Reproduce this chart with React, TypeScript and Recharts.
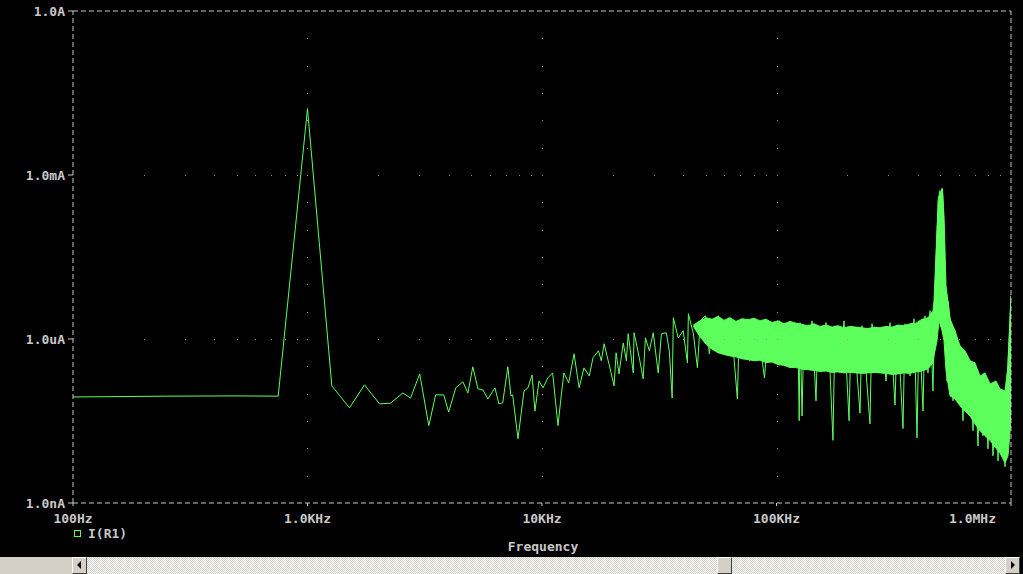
import React from "react";
import {
  ComposedChart,
  Line,
  Area,
  Scatter,
  XAxis,
  YAxis,
  ReferenceLine,
} from "recharts";

// I(R1) spectrum, [frequency Hz, current nA]
const lowTrace: [number, number][] = [
  [100, 87], [250, 90], [500, 91], [750, 90], [1000, 1.64e7],
  [1270, 139], [1510, 55], [1750, 145], [2030, 65], [2260, 67],
  [2550, 103], [2750, 83], [3010, 230], [3290, 26], [3520, 95],
  [3810, 95], [4000, 46], [4290, 128], [4600, 165], [4830, 103],
  [5070, 310], [5330, 123], [5600, 117], [5880, 80], [6300, 128],
  [6550, 65], [6800, 68], [7150, 310], [7370, 91], [7500, 95],
  [7900, 15], [8380, 112], [8710, 128], [9070, 220], [9330, 48],
  [9710, 170], [10100, 128], [10600, 195], [11100, 240], [11700, 26],
];

const midTrace: [number, number][] = [
  [12100, 99], [12400, 240], [13000, 158], [13700, 536], [14400, 128],
  [15100, 297], [15900, 210], [16500, 453], [17400, 610], [17900, 400],
  [18400, 820], [19300, 350], [20300, 139], [20700, 560], [21300, 230],
  [22200, 845], [22900, 400], [23300, 1250], [24500, 240], [24700, 1300],
  [26000, 453], [27000, 187], [27600, 1050], [28700, 610], [29800, 1300],
  [31300, 240], [32300, 1250], [33900, 1300], [34900, 610], [35900, 83],
  [36300, 2450], [38100, 1050], [40000, 1420], [41700, 366], [42100, 2900],
  [44200, 1250], [46000, 297], [47300, 2150], [49700, 2660], [51700, 536],
  [53800, 1900], [56500, 2660], [59400, 1050], [62400, 2450], [65500, 610],
  [68100, 80], [69500, 2150], [73000, 1250], [76700, 400], [80500, 2150],
  [84600, 930], [88900, 195], [92400, 1750], [98100, 1050], [103000, 2150],
  [108000, 453], [114000, 1600], [124000, 297], [125000, 32],
];

const highTrace: [number, number][] = [
  [126000, 1990], [128500, 39], [131000, 1750], [136200, 400], [141700, 2150],
  [147400, 74], [150300, 1530], [156300, 490], [162600, 1990], [169100, 260],
  [174100, 14], [177600, 1750], [186600, 320], [194100, 2150], [203900, 32],
  [207900, 1530], [218300, 400], [227100, 44], [231600, 1750], [240800, 260],
  [250400, 28], [255400, 1900], [268300, 320], [281800, 1670], [293100, 170],
  [304800, 1990], [320200, 62], [326600, 1530], [336300, 260], [346300, 23],
  [353200, 1900], [371000, 210], [385900, 2340], [397400, 15.5], [405300, 2150],
  [421500, 48], [429900, 2660], [442700, 240], [451500, 3300], [464900, 112],
  [474100, 6200], [488300, 340000], [498000, 518000], [502900, 5000], [507900, 564000],
  [512900, 420000], [523100, 11700], [533500, 170], [538700, 5000], [549500, 2340],
  [565800, 74], [577000, 1420], [594300, 91], [606100, 750], [624200, 32],
  [636600, 490], [655600, 48], [668700, 366], [688700, 21], [702300, 285],
  [723300, 11], [737600, 210], [759700, 17], [774800, 158], [797900, 9.8],
  [813700, 139], [838100, 7.3], [863000, 123], [880500, 5.9], [897900, 112],
  [915600, 9], [933700, 103], [942800, 4.6], [961400, 170], [980600, 930],
  [1000000, 6200],
];

// dense part of the spectrum drawn as a filled band: [Hz, low nA, high nA]
const bandEdges: [number, number, number][] = [
  [44200, 1700, 1800], [47200, 1100, 2150], [50100, 800, 2450], [53100, 650, 2300],
  [56300, 560, 2600], [59700, 520, 2200], [63400, 490, 2450], [67200, 470, 2100],
  [71300, 434, 2350], [75600, 420, 2250], [80200, 400, 2400], [85000, 410, 2150],
  [90200, 370, 2300], [95700, 380, 2000], [101500, 340, 2150], [107600, 330, 1900],
  [114200, 300, 2100], [121100, 300, 1950], [128500, 280, 1850], [136200, 275, 1750],
  [144500, 265, 1900], [153300, 255, 1700], [162600, 260, 1800], [172500, 245, 1650],
  [182900, 250, 1750], [194100, 240, 1600], [205800, 245, 1700], [218300, 240, 1650],
  [231600, 235, 1600], [245600, 240, 1550], [260500, 245, 1650], [276400, 240, 1600],
  [293100, 235, 1700], [310900, 225, 1650], [329700, 230, 1800], [349800, 240, 1750],
  [371000, 235, 1900], [393500, 250, 1950], [417400, 260, 2300], [442700, 285, 2450],
  [464900, 366, 3300], [469500, 490, 5000], [483500, 930, 95900], [493200, 2150, 386000],
  [507900, 1420, 564000], [518000, 930, 180000], [528300, 260, 9420], [549500, 91, 2340],
  [577000, 80, 1420], [606100, 60, 750], [636600, 48, 610], [668700, 39, 400],
  [702300, 28, 366], [737600, 21, 210], [774800, 17, 240], [813700, 14, 151],
  [863000, 10, 170], [897900, 8.2, 122], [942800, 5.4, 112], [971000, 7.3, 320],
  [1000000, 32, 6200],
];

const xTicks = [100, 1e3, 1e4, 1e5, 1e6];
const xTickLabels = ["100Hz", "1.0KHz", "10KHz", "100KHz", "1.0MHz"];
const yTicks = [1, 1e3, 1e6, 1e9];
const yTickLabels = ["1.0nA", "1.0uA", "1.0mA", "1.0A"];

const TRACE = "#5cff5c";
const TEXT = "#c8c8c8";
const FONT = "'DejaVu Sans Mono', monospace";

const traceData = [...lowTrace, ...midTrace, ...highTrace].map(([f, a]) => ({ f, a }));
const bandData = bandEdges.map(([f, lo, hi]) => ({ f, band: [lo, hi] }));

// dotted grid: rows at the inner decades of y, columns at the inner decades of x
const gridDots: { f: number; a: number }[] = [];
[1e3, 1e6].forEach((a) => {
  [100, 1e3, 1e4, 1e5].forEach((d) => {
    for (let m = 1; m <= 9; m++) {
      if (d * m > 100) gridDots.push({ f: d * m, a });
    }
  });
});
[1e3, 1e4, 1e5].forEach((f) => {
  for (let k = 1; k <= 17; k++) gridDots.push({ f, a: Math.pow(10, k / 2) });
});

const XTick = ({ x, y, payload }: any) => {
  const i = xTicks.indexOf(payload.value);
  const last = i === xTicks.length - 1;
  return (
    <text
      x={last ? x + 1 : x}
      y={y}
      dy={9}
      textAnchor={last ? "end" : "middle"}
      fill={TEXT}
      fontFamily={FONT}
      fontWeight="bold"
      fontSize={13}
    >
      {xTickLabels[i]}
    </text>
  );
};

const YTick = ({ x, y, payload }: any) => {
  const i = yTicks.indexOf(payload.value);
  return (
    <text
      x={x}
      y={y}
      dy={5}
      textAnchor="end"
      fill={TEXT}
      fontFamily={FONT}
      fontWeight="bold"
      fontSize={13}
    >
      {yTickLabels[i]}
    </text>
  );
};

const GridDot = ({ cx, cy }: any) => (
  <rect x={Math.round(cx)} y={Math.round(cy)} width={1} height={1} fill="#9a9a9a" />
);

const btn: React.CSSProperties = {
  position: "absolute",
  top: 557,
  width: 15,
  height: 17,
  boxSizing: "border-box",
  background: "#d4d0c8",
  borderTop: "1px solid #ffffff",
  borderLeft: "1px solid #ffffff",
  borderRight: "1px solid #404040",
  borderBottom: "1px solid #404040",
};

export default function App() {
  return (
    <div
      style={{
        position: "fixed",
        left: 0,
        top: 0,
        width: 1023,
        height: 574,
        background: "#000",
        overflow: "hidden",
      }}
    >
      <ComposedChart width={1023} height={557} margin={{ top: 11, right: 12, bottom: 24, left: 0 }}>
        <XAxis
          dataKey="f"
          type="number"
          scale="log"
          domain={[100, 1e6]}
          ticks={xTicks}
          allowDataOverflow
          axisLine={false}
          tickLine={{ stroke: TEXT }}
          tickSize={3}
          tickMargin={8}
          height={30}
          tick={<XTick />}
        />
        <YAxis
          type="number"
          scale="log"
          domain={[1, 1e9]}
          ticks={yTicks}
          allowDataOverflow
          axisLine={false}
          tickLine={{ stroke: TEXT }}
          tickSize={5}
          tickMargin={3}
          width={73}
          tick={<YTick />}
        />
        <Scatter data={gridDots} dataKey="a" shape={<GridDot />} isAnimationActive={false} />
        <Area
          data={bandData}
          dataKey="band"
          type="linear"
          stroke={TRACE}
          strokeWidth={1}
          fill={TRACE}
          fillOpacity={1}
          dot={false}
          activeDot={false}
          isAnimationActive={false}
        />
        <Line
          data={traceData}
          dataKey="a"
          type="linear"
          stroke={TRACE}
          strokeWidth={1}
          dot={false}
          activeDot={false}
          isAnimationActive={false}
        />
        <ReferenceLine x={100} stroke={TEXT} strokeDasharray="5 3" ifOverflow="visible" />
        <ReferenceLine x={1e6} stroke={TEXT} strokeDasharray="5 3" ifOverflow="visible" />
        <ReferenceLine y={1} stroke={TEXT} strokeDasharray="5 3" ifOverflow="visible" />
        <ReferenceLine y={1e9} stroke={TEXT} strokeDasharray="5 3" ifOverflow="visible" />
      </ComposedChart>

      <div
        style={{
          position: "absolute",
          left: 74,
          top: 530,
          width: 5,
          height: 5,
          border: `1px solid ${TRACE}`,
        }}
      />
      <div
        style={{
          position: "absolute",
          left: 88,
          top: 527,
          fontFamily: FONT,
          fontWeight: "bold",
          fontSize: 13,
          lineHeight: "14px",
          color: TEXT,
        }}
      >
        I(R1)
      </div>
      <div
        style={{
          position: "absolute",
          left: 443,
          width: 200,
          top: 540,
          textAlign: "center",
          fontFamily: FONT,
          fontWeight: "bold",
          fontSize: 13,
          lineHeight: "14px",
          color: TEXT,
        }}
      >
        Frequency
      </div>

      {/* scrollbar */}
      <div style={{ position: "absolute", left: 0, top: 557, width: 72, height: 17, background: "#d4d0c8" }} />
      <div
        style={{
          position: "absolute",
          left: 72,
          top: 557,
          width: 948,
          height: 17,
          backgroundImage: "repeating-conic-gradient(#d4d0c8 0% 25%, #ffffff 0% 50%)",
          backgroundSize: "2px 2px",
        }}
      />
      <div style={{ ...btn, left: 72 }}>
        <div
          style={{
            position: "absolute",
            left: 4,
            top: 3,
            width: 0,
            height: 0,
            borderTop: "4px solid transparent",
            borderBottom: "4px solid transparent",
            borderRight: "4px solid #000",
          }}
        />
      </div>
      <div style={{ ...btn, left: 717 }} />
      <div style={{ ...btn, left: 1005 }}>
        <div
          style={{
            position: "absolute",
            left: 5,
            top: 3,
            width: 0,
            height: 0,
            borderTop: "4px solid transparent",
            borderBottom: "4px solid transparent",
            borderLeft: "4px solid #000",
          }}
        />
      </div>
    </div>
  );
}
